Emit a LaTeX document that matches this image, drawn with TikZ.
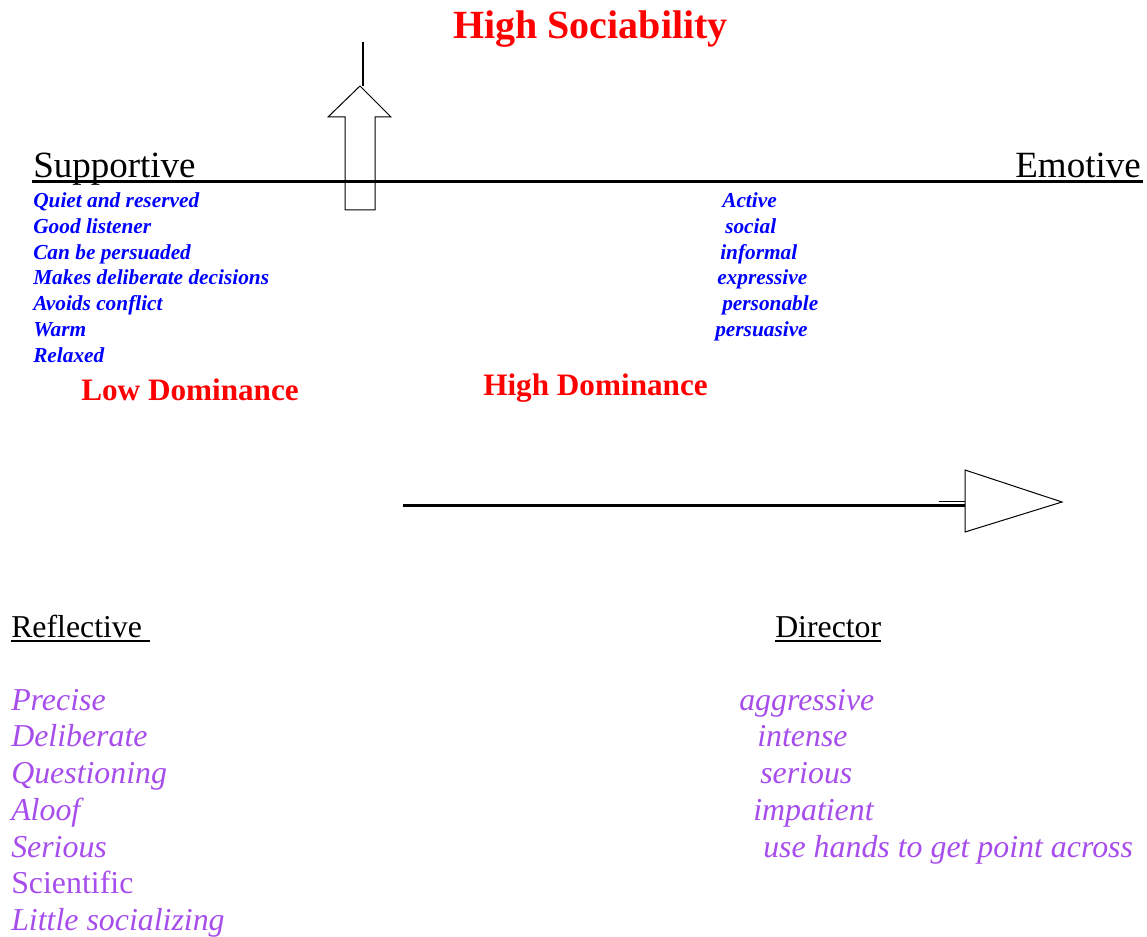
\documentclass[tikz,border=0pt]{standalone}
\usepackage{fontspec}
\setmainfont{Liberation Serif}
\definecolor{hired}{RGB}{255,0,0}
\definecolor{traitblue}{RGB}{0,0,255}
\definecolor{traitpurple}{RGB}{166,77,236}
\tikzset{
  redhead/.style={anchor=base west, inner sep=0, text=hired, font=\bfseries\fontsize{23.4}{28}\selectfont},
  quadname/.style={anchor=base west, inner sep=0, font=\fontsize{27.75}{33}\selectfont},
  lowname/.style={anchor=base west, inner sep=0, font=\fontsize{23.85}{28}\selectfont},
  bluetrait/.style={anchor=base west, inner sep=0, text=traitblue, font=\bfseries\itshape\fontsize{16}{19}\selectfont},
  purptrait/.style={anchor=base west, inner sep=0, text=traitpurple, font=\itshape\fontsize{23.9}{28}\selectfont},
  axisline/.style={line width=2.25pt},
  outline/.style={line width=0.75pt, line join=miter}
}
\begin{document}
\begin{tikzpicture}[x=0.75pt, y=-0.75pt]
    \useasboundingbox (0,0) rectangle (1147,937);

    % Title
    \node[redhead, font=\bfseries\fontsize{30}{36}\selectfont] (hisoc) at (453,38.5) {High Sociability};

    % Up arrow (sociability)
    \draw[line width=1.1pt] (363,42) -- (363,86);
    \draw[outline] (345,210) -- (345,117) -- (328,117) -- (360,86) -- (391,117)
        -- (375,117) -- (375,210) -- cycle;

    % Top axis with quadrant names
    \draw[axisline] (32,182) -- (1143,182);
    \node[quadname] (supp) at (33,178) {Supportive};
    \node[quadname, anchor=base east] (emot) at (1141,178) {Emotive};

    % Supportive traits
    \node[bluetrait] (s1) at (33,207.5) {Quiet and reserved};
    \node[bluetrait] (s2) at (33,233.3) {Good listener};
    \node[bluetrait] (s3) at (33,259.1) {Can be persuaded};
    \node[bluetrait] (s4) at (33,284.9) {Makes deliberate decisions};
    \node[bluetrait] (s5) at (33,310.7) {Avoids conflict};
    \node[bluetrait] (s6) at (33,336.5) {Warm};
    \node[bluetrait] (s7) at (33,362.3) {Relaxed};

    % Emotive traits
    \node[bluetrait] (e1) at (722,207.5) {Active};
    \node[bluetrait] (e2) at (725,233.3) {social};
    \node[bluetrait] (e3) at (720,259.1) {informal};
    \node[bluetrait] (e4) at (717,284.9) {expressive};
    \node[bluetrait] (e5) at (722,310.7) {personable};
    \node[bluetrait] (e6) at (715,336.5) {persuasive};

    % Dominance labels
    \node[redhead] (lodom) at (81,400.5) {Low Dominance};
    \node[redhead] (hidom) at (483,395.5) {High Dominance};

    % Right arrow (dominance)
    \draw[axisline] (403,506) -- (965,506);
    \draw[outline] (939,502) -- (965,502);
    \draw[outline] (965,470) -- (1062,502) -- (965,532) -- cycle;

    % Lower quadrant names
    \node[lowname] (refl) at (11,637.5) {Reflective\ };
    \draw[line width=1.5pt] (11,641.5) -- (150,641.5);
    \node[lowname] (dirc) at (775,637.5) {Director};
    \draw[line width=1.5pt] (775,641.5) -- (881,641.5);

    % Reflective traits
    \node[purptrait] (r1) at (11,710.3) {Precise};
    \node[purptrait] (r2) at (11,747) {Deliberate};
    \node[purptrait] (r3) at (11,783.7) {Questioning};
    \node[purptrait] (r4) at (11,820.4) {Aloof};
    \node[purptrait] (r5) at (11,857.1) {Serious};
    \node[purptrait, font=\upshape\fontsize{23.9}{28}\selectfont] (r6) at (11,893.8) {Scientific};
    \node[purptrait] (r7) at (11,930.5) {Little socializing};

    % Director traits
    \node[purptrait] (d1) at (739,710.3) {aggressive};
    \node[purptrait] (d2) at (757,747) {intense};
    \node[purptrait] (d3) at (760,783.7) {serious};
    \node[purptrait] (d4) at (753,820.4) {impatient};
    \node[purptrait] (d5) at (763,857.1) {use hands to get point across};
\end{tikzpicture}
\end{document}
